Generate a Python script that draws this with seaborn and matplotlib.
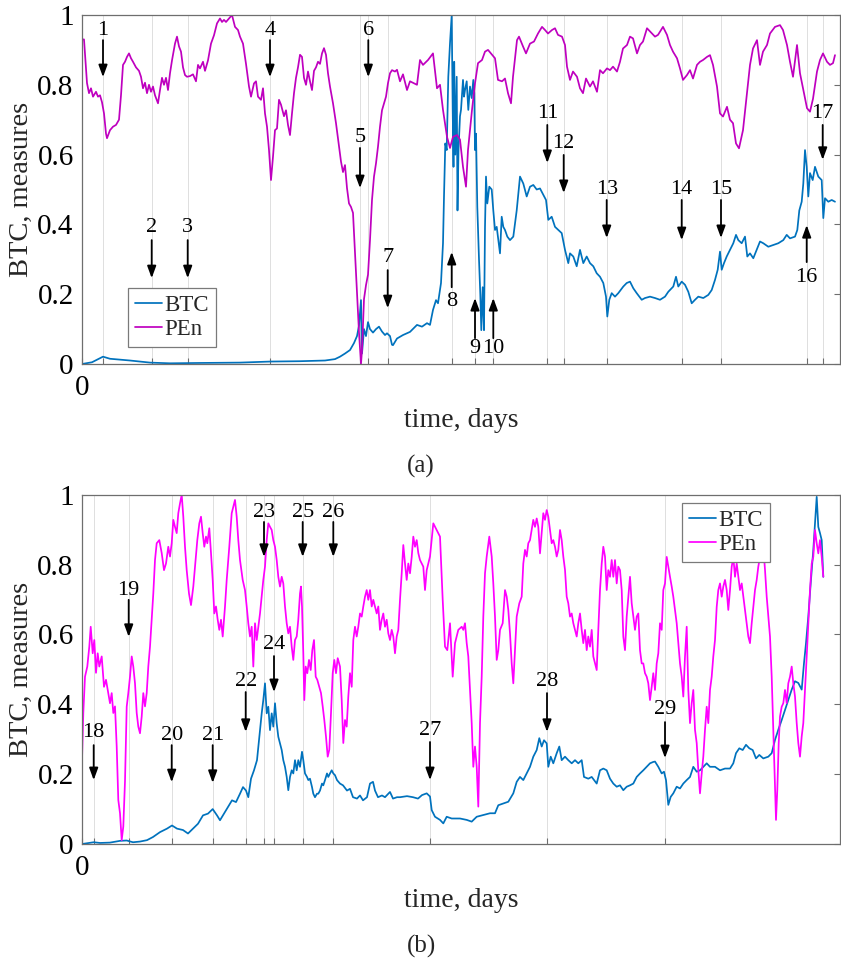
import numpy as np
import pandas as pd
import seaborn as sns
import matplotlib.pyplot as plt
from matplotlib.lines import Line2D

# ---------------- data ----------------
# panel (a)
a_pen_day = [0,2,5,7,9,11,14,16,18,20,22,24,25,28,31,34,37,39,41,43,45,47,49,51,54,57,59,61,63,65,67,69,71,73,76,78,80,82,84,86,88,90,93,95,97,99,101,103,105,108,111,114,116,118,121,123,126,129,132,135,138,140,142,144,147,150,153,156,158,161,164,167,169,172,174,176,179,181,183,185,187,189,191,193,195,197,199,202,204,206,208,210,212,214,216,218,220,222,224,226,228,230,232,234,236,238,240,242,244,246,248,251,254,257,259,261,263,265,267,269,271,273,275,277,279,280,282,284,286,288,290,292,294,296,298,300,302,304,306,308,310,313,315,318,321,325,328,335,338,341,346,351,355,358,361,365,368,371,375,378,381,384,386,390,393,396,400,403,406,410,413,416,420,423,426,429,431,435,437,441,444,448,452,456,460,463,466,470,473,476,480,483,485,488,491,495,498,501,504,508,511,515,518,521,525,528,531,535,538,541,545,548,551,555,558,561,565,570,573,576,581,585,588,591,595,598,601,605,608,611,615,618,621,625,628,631,635,638,641,645,648,651,654,657,661,665,668,671,675,678,681,685,688,693,698,701,705,708,711,715,718,721,725,728,731,735,738,741,745,748,751,753]
a_pen_val = [0.93,0.93,0.805,0.776,0.79,0.766,0.78,0.766,0.77,0.75,0.718,0.66,0.647,0.67,0.68,0.685,0.70,0.77,0.857,0.866,0.88,0.89,0.876,0.866,0.85,0.84,0.823,0.79,0.806,0.776,0.8,0.78,0.795,0.77,0.747,0.785,0.82,0.8,0.82,0.785,0.833,0.87,0.918,0.938,0.91,0.895,0.85,0.828,0.823,0.825,0.83,0.81,0.857,0.847,0.866,0.84,0.87,0.918,0.942,0.976,0.99,0.98,0.986,0.98,0.99,1.0,0.966,0.957,0.938,0.918,0.86,0.795,0.766,0.804,0.81,0.766,0.757,0.79,0.718,0.68,0.613,0.527,0.594,0.67,0.675,0.757,0.743,0.71,0.727,0.685,0.656,0.718,0.776,0.82,0.85,0.886,0.88,0.82,0.8,0.838,0.81,0.785,0.84,0.85,0.866,0.86,0.89,0.905,0.886,0.833,0.795,0.747,0.69,0.623,0.58,0.55,0.57,0.504,0.46,0.45,0.433,0.317,0.2,0.09,0.0,0.04,0.186,0.226,0.256,0.355,0.47,0.537,0.575,0.623,0.68,0.727,0.747,0.766,0.805,0.833,0.842,0.838,0.843,0.81,0.83,0.785,0.81,0.80,0.871,0.857,0.871,0.89,0.79,0.80,0.728,0.651,0.619,0.651,0.656,0.643,0.565,0.508,0.613,0.728,0.804,0.862,0.871,0.895,0.9,0.886,0.876,0.814,0.81,0.818,0.776,0.747,0.823,0.928,0.938,0.91,0.89,0.918,0.924,0.947,0.966,0.957,0.947,0.957,0.962,0.943,0.938,0.914,0.852,0.814,0.838,0.823,0.79,0.776,0.818,0.795,0.81,0.78,0.842,0.833,0.847,0.842,0.852,0.838,0.866,0.904,0.914,0.938,0.933,0.89,0.914,0.924,0.962,0.947,0.938,0.943,0.966,0.943,0.914,0.895,0.876,0.847,0.814,0.828,0.842,0.818,0.857,0.866,0.871,0.88,0.885,0.857,0.795,0.718,0.709,0.737,0.7,0.69,0.632,0.618,0.67,0.776,0.857,0.904,0.928,0.857,0.895,0.914,0.947,0.966,0.971,0.957,0.914,0.866,0.823,0.914,0.833,0.79,0.733,0.723,0.76,0.838,0.871,0.89,0.866,0.857,0.862,0.885]

a_btc_day = [0,10,21,28,48,68,88,118,158,188,218,243,253,258,263,268,272,275,277,279,280,282,284,286,288,291,294,297,300,303,305,308,310,311,315,321,328,335,340,345,348,351,354,356,359,361,362,363.3,364.7,366.3,368,369.7,370.7,371.5,372.2,373.3,374.7,375.5,376.5,378,379,381,382,383,384.7,386.3,388,389.7,391.3,392.3,393,394,395.3,397,398.3,399.3,400.7,402,403,404,405.3,407.3,409.7,411.3,413,414.7,416.3,418,419.7,421.3,423,425.3,428,431.3,434.7,438,441.3,444.7,448,451.3,454.7,458,461.3,464,466.3,469.7,473,476.3,479.7,483,486.3,488,491.3,494.7,498,501.3,504.7,508,511.3,514.7,518,521.3,524,525.3,527.3,529.7,533,536.3,541.3,544.7,548,551.3,554.7,559.7,563,568,573,578,583,586.3,591.3,594,596.3,599.7,603,606.3,609.7,613,616.3,621.3,626.3,629.7,633,635.7,638,639.7,642,644.7,648,651.3,654,656.3,659.7,663,665.3,668,671.3,674.7,678,681.3,686.3,691.3,696.3,701.3,704.7,708,713,715.3,717.3,719.7,721.3,723,724.7,726.3,728,730.7,733,736.3,739.7,741.3,743,746.3,749.7,753]
a_btc_val = [0.0,0.005,0.021,0.015,0.01,0.004,0.002,0.003,0.004,0.007,0.008,0.01,0.014,0.021,0.03,0.04,0.06,0.08,0.11,0.183,0.03,0.1,0.08,0.12,0.1,0.09,0.1,0.107,0.093,0.083,0.088,0.08,0.055,0.054,0.073,0.083,0.092,0.112,0.107,0.117,0.112,0.155,0.183,0.174,0.232,0.346,0.48,0.632,0.613,0.823,0.919,1.0,0.728,0.565,0.866,0.6,0.823,0.44,0.613,0.71,0.728,0.814,0.766,0.785,0.81,0.728,0.795,0.762,0.814,0.776,0.613,0.66,0.45,0.3,0.2,0.097,0.22,0.097,0.393,0.537,0.46,0.508,0.5,0.44,0.384,0.393,0.355,0.317,0.422,0.393,0.384,0.365,0.355,0.365,0.44,0.537,0.517,0.48,0.508,0.513,0.5,0.503,0.485,0.47,0.413,0.422,0.393,0.384,0.375,0.327,0.289,0.317,0.308,0.28,0.327,0.289,0.308,0.289,0.28,0.26,0.25,0.232,0.193,0.136,0.184,0.203,0.193,0.203,0.222,0.232,0.236,0.217,0.203,0.184,0.189,0.193,0.189,0.184,0.193,0.207,0.222,0.25,0.222,0.236,0.227,0.207,0.174,0.184,0.193,0.189,0.198,0.212,0.241,0.27,0.322,0.27,0.289,0.308,0.327,0.346,0.37,0.355,0.346,0.365,0.308,0.317,0.303,0.327,0.351,0.346,0.336,0.341,0.346,0.355,0.37,0.36,0.365,0.384,0.44,0.465,0.517,0.613,0.565,0.48,0.547,0.527,0.565,0.537,0.527,0.418,0.475,0.465,0.47,0.465]

# panel (b)
b_pen_day = [0,1.3,3,5.3,7.3,8.7,10.7,12.3,14,15.7,17.3,19.7,22,24,26.3,28,29.7,31.3,33,34.7,36.3,38,39.7,41.3,43,44.7,46.3,48,49.7,51.3,53,54.7,56.3,58,59.7,61.3,63,64.7,66.3,68,69.7,71.3,73,74.7,77.3,79.7,82,84,86.3,88,89.7,91.3,93,94.7,96.3,98,99.7,101.3,103,104.7,107,109,111.3,113,115.3,117.3,119,120.7,122.3,124,125.3,127.3,129,130.7,132.3,134,135.7,137.3,139,140.7,143,144.7,147.3,149.7,151.3,153,154.7,156.3,158,160.7,163,164.7,166.3,168,169.7,171.3,173,174.7,176.3,178,179.7,181.3,183,184.7,186.3,188,189.7,191.3,193,194.7,196.3,198,199.7,201.3,203,204.7,206.3,208,209.7,211.3,213,214.7,216.3,218,219,220,221.3,222.3,223.7,225.3,227,228.7,230.3,232,233.7,235.3,237.3,239,240.7,242.3,244,245.7,247.3,249,250.7,252.3,254,255.7,258,259.7,261.3,263,264.7,266.3,268,269.7,271.3,273,274.7,276.3,278,279.7,281.3,283,284.7,286.3,288,289.7,291.3,293,294.7,296.3,298,299.7,301.3,303,304.7,306.3,308,309.7,311.3,313,314.7,316.3,318,319.7,321.3,323,324.7,326.3,328,329.7,331.3,333,334.7,336.3,338,341.3,343,344.7,348,351.3,354.7,358,360.7,363,365.3,368,370.7,373,376.3,379.7,381.3,383,384.7,386.3,388,389.7,391.3,393,394.7,396.3,398,399.7,401.3,403,404.7,407.3,409.7,411.3,413,414.7,416.3,418,420.7,423,424.7,426.3,428,429.7,431.3,433,434.7,437.3,439.7,441.3,443,444.7,446.3,448,449.7,451.3,453,454.7,456.3,458,459.7,461.3,463,464.7,466.3,468,469.7,471.3,473,474.7,476.3,478,479.7,481.3,483,484.7,486.3,488,489.7,491.3,493,494.7,496.3,498,499.7,501.3,503,504.7,506.3,508,509.7,511.3,513,514.7,516.3,518,519.7,521.3,523,524.7,526.3,528,529.7,531.3,533,534.7,536.3,538,539.7,541.3,543,544.7,546.3,548,549.7,551.3,553,554.7,556.3,558,559.7,561.3,563,564.7,566.3,568,569.7,571.3,573,574.7,576.3,578,579.7,581.3,583,584.7,586.3,588,589.7,591.3,593,594.7,596.3,598,599.7,601.3,603,604.7,606.3,608,609.7,611.3,613,614.7,616.3,618,619.7,621.3,623,624.7,626.3,628,629.7,631.3,633,634.7,636.3,638,639.7,641.3,643,644.7,646.3,648,649.7,651.3,653,654.7,656.3,658,659.7,661.3,663,664.7,666.3,668,669.7,671.3,673,674.7,676.3,678,679.7,681.3,683,684.7,686.3,688,689.7,691.3,693,694,695.3,696.7,698,699.7,701.3,703,704.7,706.3,708,709.7,711.3,713,714.7,716.3,718,719.7,721.3,723,724.7,726.3,728,729.7,731.3,733,734.7,736.3,738,739.7,741.3]
b_pen_val = [0.24,0.375,0.479,0.508,0.565,0.622,0.546,0.584,0.49,0.546,0.508,0.537,0.45,0.47,0.432,0.403,0.432,0.375,0.394,0.279,0.126,0.088,0.011,0.05,0.18,0.393,0.432,0.479,0.537,0.508,0.46,0.375,0.336,0.317,0.365,0.432,0.394,0.432,0.508,0.565,0.642,0.717,0.813,0.861,0.87,0.833,0.784,0.803,0.851,0.823,0.861,0.928,0.908,0.89,0.947,0.975,1.0,0.937,0.851,0.784,0.717,0.684,0.737,0.794,0.87,0.918,0.937,0.89,0.851,0.88,0.861,0.904,0.833,0.756,0.66,0.68,0.642,0.613,0.642,0.594,0.68,0.756,0.851,0.947,0.966,0.985,0.937,0.87,0.813,0.756,0.727,0.68,0.632,0.594,0.622,0.508,0.632,0.584,0.622,0.66,0.708,0.756,0.794,0.87,0.918,0.908,0.899,0.87,0.851,0.813,0.765,0.737,0.765,0.746,0.68,0.632,0.603,0.622,0.565,0.527,0.584,0.594,0.642,0.717,0.737,0.68,0.546,0.412,0.508,0.489,0.527,0.498,0.555,0.584,0.479,0.47,0.45,0.432,0.394,0.355,0.307,0.25,0.27,0.375,0.489,0.527,0.489,0.532,0.508,0.412,0.289,0.355,0.336,0.422,0.489,0.45,0.584,0.622,0.594,0.622,0.66,0.651,0.68,0.708,0.727,0.699,0.727,0.68,0.699,0.68,0.66,0.68,0.613,0.642,0.66,0.622,0.642,0.603,0.584,0.613,0.594,0.546,0.594,0.613,0.699,0.775,0.856,0.803,0.756,0.803,0.775,0.822,0.88,0.851,0.87,0.833,0.813,0.794,0.727,0.784,0.823,0.918,0.899,0.88,0.699,0.565,0.555,0.632,0.479,0.575,0.613,0.622,0.613,0.632,0.575,0.537,0.441,0.346,0.221,0.279,0.221,0.107,0.346,0.479,0.651,0.775,0.823,0.88,0.823,0.746,0.651,0.527,0.555,0.613,0.632,0.727,0.708,0.67,0.603,0.517,0.46,0.555,0.651,0.689,0.708,0.803,0.842,0.823,0.861,0.87,0.899,0.928,0.908,0.932,0.908,0.832,0.89,0.947,0.928,0.956,0.937,0.899,0.861,0.87,0.851,0.823,0.842,0.899,0.87,0.823,0.785,0.708,0.689,0.651,0.66,0.632,0.613,0.594,0.632,0.66,0.613,0.575,0.613,0.555,0.594,0.565,0.613,0.537,0.517,0.498,0.613,0.727,0.803,0.851,0.823,0.727,0.784,0.765,0.813,0.765,0.813,0.746,0.794,0.784,0.727,0.594,0.555,0.651,0.708,0.765,0.689,0.651,0.613,0.651,0.66,0.555,0.517,0.517,0.489,0.479,0.46,0.412,0.45,0.489,0.441,0.517,0.546,0.632,0.613,0.727,0.746,0.822,0.794,0.765,0.737,0.708,0.67,0.632,0.575,0.517,0.479,0.422,0.537,0.622,0.441,0.346,0.403,0.441,0.327,0.289,0.212,0.145,0.202,0.25,0.327,0.393,0.346,0.441,0.479,0.537,0.584,0.679,0.727,0.746,0.708,0.737,0.756,0.727,0.67,0.727,0.794,0.822,0.765,0.803,0.765,0.727,0.746,0.708,0.67,0.632,0.594,0.575,0.632,0.679,0.727,0.756,0.794,0.822,0.842,0.851,0.785,0.708,0.651,0.594,0.479,0.327,0.155,0.069,0.155,0.289,0.365,0.393,0.403,0.441,0.403,0.46,0.479,0.508,0.46,0.422,0.346,0.289,0.25,0.308,0.346,0.441,0.537,0.632,0.727,0.803,0.822,0.899,0.861,0.832,0.87,0.822,0.765]

b_btc_day = [0,11.7,18,28,38,44.7,51,58,65,71,78,85,90,95,101,106,111,116,121,126,130.7,135,138,142,146,150,154,158,161,164,166.3,169,172,175,177.3,179.7,181.3,183,184.7,186.3,188,189.7,191.3,193,194.7,196.3,198,199.7,201.3,203,204.7,206.3,208,209.7,211.3,213,214.7,216.3,218,220,221.3,223,225,226.3,228,230,231.3,233,235,236.3,238,240,241.3,243,245,246.3,248,249.7,251.3,253,255,258,261,265,268,271,275,278,281,285,288,291,293,296,300,303,308,311,315,318,325,331,336,340,344.7,348,349.7,353,358,361.3,364.7,369.7,374.7,378,384.7,389.7,394.7,401.3,408,413,416.3,421.3,426.3,431.3,434.7,438,441.3,444.7,448,451.3,454.7,457.3,459.7,462,464.7,466.3,468.7,471.3,474.7,477.3,479.7,483,486.3,489.7,493,496.3,499.7,502,506.3,509.7,514.7,518,521.3,524.7,528,531.3,534.7,538,541.3,544.7,548,551.3,554.7,558,561.3,564.7,568,571.3,573,576.3,579.7,582,584,586.3,588.7,591.3,594.7,598,601.3,604.7,608,611.3,614.7,618,621.3,624.7,628,633,638,643,648,651.3,654,657.3,660.7,664,667.3,670.7,674,677.3,681.3,686.3,689.7,693,696.3,699.7,703,706.3,709.7,713,716.3,719.7,722,724,726.3,728.7,731.3,733,734.7,736.3,738,739.7,741.3]
b_btc_val = [0.0,0.005,0.003,0.004,0.009,0.01,0.005,0.007,0.011,0.02,0.034,0.044,0.053,0.044,0.04,0.03,0.044,0.058,0.082,0.087,0.1,0.082,0.068,0.087,0.106,0.125,0.12,0.144,0.163,0.153,0.134,0.187,0.211,0.24,0.307,0.374,0.412,0.46,0.374,0.393,0.326,0.374,0.336,0.403,0.345,0.307,0.288,0.269,0.24,0.221,0.192,0.154,0.192,0.211,0.202,0.24,0.211,0.24,0.221,0.264,0.24,0.202,0.192,0.183,0.187,0.163,0.144,0.134,0.144,0.144,0.153,0.173,0.168,0.183,0.202,0.192,0.202,0.211,0.202,0.197,0.183,0.173,0.168,0.153,0.158,0.134,0.13,0.139,0.125,0.134,0.173,0.178,0.153,0.134,0.139,0.134,0.149,0.13,0.134,0.134,0.137,0.134,0.13,0.14,0.145,0.136,0.097,0.078,0.069,0.059,0.078,0.073,0.073,0.073,0.069,0.064,0.078,0.083,0.088,0.088,0.111,0.116,0.121,0.145,0.178,0.192,0.183,0.202,0.221,0.25,0.269,0.303,0.279,0.297,0.288,0.221,0.25,0.231,0.26,0.279,0.24,0.25,0.24,0.231,0.24,0.231,0.24,0.192,0.187,0.192,0.173,0.211,0.216,0.211,0.187,0.173,0.164,0.168,0.154,0.164,0.168,0.173,0.192,0.202,0.211,0.221,0.231,0.235,0.236,0.221,0.202,0.207,0.183,0.112,0.135,0.145,0.164,0.159,0.173,0.183,0.192,0.221,0.207,0.211,0.221,0.231,0.221,0.221,0.211,0.216,0.216,0.231,0.26,0.274,0.269,0.284,0.274,0.269,0.245,0.255,0.245,0.25,0.26,0.298,0.327,0.355,0.384,0.413,0.442,0.466,0.461,0.442,0.518,0.575,0.651,0.746,0.842,0.918,0.994,0.908,0.89,0.87,0.765]

# event markers (days) and their labels
a_event_day = [21, 69.7, 105.7, 188, 278, 286.3, 305.7, 369.7, 393, 411.3, 465.3, 481.7, 524.7, 599.7, 639, 724.7, 740.7]
a_event_lbl = [str(i) for i in range(1, 18)]
b_event_day = [11.7, 46.7, 89.7, 130.7, 163.7, 182, 192, 220.7, 251.3, 348, 465, 583]
b_event_lbl = [str(i) for i in range(18, 30)]

y_ticks = [0, 0.2, 0.4, 0.6, 0.8, 1]
y_tick_lbl = ['0', '0.2', '0.4', '0.6', '0.8', '1']

# ---------------- layout / style ----------------
# (text y, arrow tail y, arrow head y) for each marker
a_marks = [(0.957, 0.928, 0.822), (0.39, 0.355, 0.246), (0.39, 0.355, 0.246),
           (0.957, 0.928, 0.822), (0.648, 0.619, 0.504), (0.957, 0.928, 0.822),
           (0.304, 0.269, 0.160), (0.178, 0.220, 0.321), (0.043, 0.074, 0.189),
           (0.043, 0.074, 0.189), (0.719, 0.685, 0.576), (0.633, 0.599, 0.490),
           (0.501, 0.470, 0.361), (0.501, 0.470, 0.355), (0.501, 0.470, 0.361),
           (0.249, 0.292, 0.398), (0.719, 0.685, 0.585)]
b_marks = [(0.318, 0.283, 0.183), (0.727, 0.699, 0.593), (0.312, 0.283, 0.177),
           (0.312, 0.283, 0.175), (0.464, 0.435, 0.321), (0.950, 0.922, 0.822),
           (0.570, 0.538, 0.435), (0.950, 0.922, 0.822), (0.950, 0.922, 0.822),
           (0.326, 0.292, 0.183), (0.464, 0.432, 0.321), (0.384, 0.349, 0.246)]

sns.set_theme(style='white')
plt.rcParams['font.family'] = ['Liberation Serif', 'DejaVu Serif']

W, H = 841, 963
fig = plt.figure(figsize=(W / 100, H / 100), dpi=100)
ax_a = fig.add_axes([82 / W, 1 - 364 / H, 758 / W, 349 / H])
ax_b = fig.add_axes([82 / W, 1 - 844 / H, 758 / W, 349.3 / H])

BLUE = '#0072BD'
spine_c = '#6e6e6e'


def panel(ax, btc_d, btc_v, pen_d, pen_v, pen_color, ev_day, ev_lbl, marks,
          leg_anchor, leg_loc):
    df = pd.concat([
        pd.DataFrame({'day': btc_d, 'value': btc_v, 'series': 'BTC'}),
        pd.DataFrame({'day': pen_d, 'value': pen_v, 'series': 'PEn'}),
    ], ignore_index=True)
    sns.lineplot(data=df, x='day', y='value', hue='series',
                 palette={'BTC': BLUE, 'PEn': pen_color},
                 estimator=None, sort=False, linewidth=1.25, ax=ax, legend=False)
    ax.set_xlim(0, 758)
    ax.set_ylim(0, 1)
    ax.set_yticks(y_ticks)
    ax.set_yticklabels(y_tick_lbl)
    ax.set_xticks([0] + list(ev_day))
    ax.set_xticklabels(['0'] + [''] * len(ev_day))
    ax.grid(axis='x', color='#dedede', linewidth=0.7)
    ax.grid(axis='y', visible=False)
    ax.set_axisbelow(True)
    for s in ax.spines.values():
        s.set_color(spine_c)
        s.set_linewidth(0.9)
        s.set_visible(True)
    ax.tick_params(axis='both', direction='in', length=4, width=0.8,
                   color=spine_c, labelsize=21, labelcolor='black')
    ax.tick_params(axis='y', right=True, pad=6)
    ax.tick_params(axis='x', bottom=True, pad=8)
    ax.set_xlabel('time, days', fontsize=20)
    ax.xaxis.set_label_coords(0.5, -0.125)
    ax.set_ylabel('BTC, measures', fontsize=20.5)
    ax.yaxis.set_label_coords(-0.063, 0.5)

    for x, lbl, (ty, tail, head) in zip(ev_day, ev_lbl, marks):
        ax.annotate('', xy=(x, head), xytext=(x, tail),
                    arrowprops=dict(arrowstyle='-|>,head_length=0.6,head_width=0.22',
                                    color='black', lw=1.3,
                                    mutation_scale=12, shrinkA=0, shrinkB=0))
        ax.text(x, ty, lbl, ha='center', va='center', fontsize=16, color='black')

    handles = [Line2D([], [], color=BLUE, lw=1.25),
               Line2D([], [], color=pen_color, lw=1.25)]
    leg = ax.legend(handles, ['BTC', 'PEn'], loc=leg_loc, bbox_to_anchor=leg_anchor,
                    borderaxespad=0, fontsize=16.5, handlelength=1.2,
                    handletextpad=0.1, borderpad=0.3, labelspacing=0.15,
                    fancybox=False, framealpha=1, edgecolor='#7a7a7a')
    leg.get_frame().set_linewidth(0.9)


panel(ax_a, a_btc_day, a_btc_val, a_pen_day, a_pen_val, '#BF00BF',
      a_event_day, a_event_lbl, a_marks, (46 / 758, 17 / 349), 'lower left')
panel(ax_b, b_btc_day, b_btc_val, b_pen_day, b_pen_val, '#FF00FF',
      b_event_day, b_event_lbl, b_marks, (600 / 758, 341 / 349.3), 'upper left')

fig.text(421 / W, 1 - 466 / H, '(a)', ha='center', va='center', fontsize=18)
fig.text(421 / W, 1 - 946 / H, '(b)', ha='center', va='center', fontsize=18)

fig.savefig('out.png', dpi=100)
